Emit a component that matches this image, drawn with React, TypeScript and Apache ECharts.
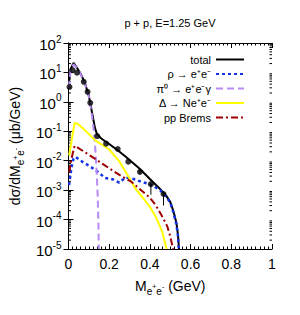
import React, { useEffect, useRef } from "react";
import * as echarts from "echarts";

const totalX = [0.002, 0.01, 0.025, 0.04, 0.06, 0.08, 0.1, 0.11, 0.12, 0.13, 0.14, 0.16, 0.18, 0.2, 0.24, 0.28, 0.3, 0.35, 0.4, 0.45, 0.48, 0.5, 0.515, 0.53, 0.538, 0.543];
const totalY = [5, 13, 21, 15, 9, 4.5, 1.6, 0.7, 0.3, 0.13, 0.08, 0.058, 0.046, 0.037, 0.023, 0.014, 0.0105, 0.0053, 0.0024, 0.0011, 6.5e-4, 4e-4, 2e-4, 8e-5, 3e-5, 1e-5];

const rhoX = [0.003, 0.015, 0.025, 0.035, 0.06, 0.09, 0.13, 0.18, 0.22, 0.25, 0.28, 0.32, 0.36, 0.4, 0.45, 0.48, 0.5, 0.515, 0.53, 0.538, 0.542];
const rhoY = [0.0015, 0.006, 0.012, 0.0135, 0.01, 0.0075, 0.005, 0.0026, 0.0023, 0.0018, 0.0027, 0.0024, 0.0019, 0.0016, 0.001, 6e-4, 3.8e-4, 1.8e-4, 7e-5, 2.8e-5, 1e-5];

const pi0X = [0.002, 0.01, 0.025, 0.04, 0.06, 0.08, 0.1, 0.11, 0.12, 0.13, 0.138, 0.143, 0.147, 0.149];
const pi0Y = [3, 11, 19, 14.5, 8.7, 4.3, 1.5, 0.6, 0.2, 0.04, 5e-3, 8e-4, 8e-5, 1e-5];

const deltaX = [0.003, 0.03, 0.045, 0.08, 0.13, 0.2, 0.25, 0.3, 0.33, 0.37, 0.4, 0.43, 0.46, 0.482];
const deltaY = [0.015, 0.19, 0.18, 0.11, 0.05, 0.024, 0.0095, 0.0025, 0.0011, 5e-4, 2.7e-4, 1.2e-4, 4e-5, 1e-5];

const bremsX = [0.003, 0.015, 0.03, 0.045, 0.1, 0.16, 0.2, 0.26, 0.31, 0.35, 0.4, 0.43, 0.455, 0.485, 0.5, 0.514];
const bremsY = [0.004, 0.012, 0.032, 0.028, 0.016, 0.0085, 0.0055, 0.003, 0.0019, 0.0011, 5.5e-4, 3e-4, 1.5e-4, 6e-5, 2.7e-5, 1e-5];

const dataX = [0.005, 0.02, 0.042, 0.075, 0.094, 0.107, 0.141, 0.185, 0.242, 0.294, 0.351, 0.405, 0.467];
const dataY = [3.2, 12, 9.8, 4.8, 2.2, 0.93, 0.069, 0.038, 0.025, 0.0093, 0.0042, 0.0016, 7.4e-4];
const dataLo = [3.2, 12, 9.8, 4.8, 2.2, 0.93, 0.069, 0.038, 0.025, 0.0093, 0.0034, 7e-4, 3e-4];
const dataHi = [3.2, 12, 9.8, 4.8, 2.2, 0.93, 0.069, 0.038, 0.025, 0.0093, 0.0052, 0.0016, 7.4e-4];

const legendNames = ["total", "ρ → e⁺e⁻", "π⁰ → e⁺e⁻γ", "Δ → Ne⁺e⁻", "pp Brems"];

const yMinor: number[] = [];
for (let e = -5; e < 2; e++) {
  for (let m = 2; m <= 9; m++) yMinor.push(m * Math.pow(10, e));
}

const FONT = "Liberation Sans, Arial, sans-serif";

const zip = (xs: number[], ys: number[]) => xs.map((x, i) => [x, ys[i]]);

export default function App() {
  const ref = useRef<HTMLDivElement>(null);
  useEffect(() => {
    document.body.style.margin = "0";
    if (!ref.current) return;
    const chart = echarts.init(ref.current, null, { renderer: "svg" });
    const lineBase = (name: string, xs: number[], ys: number[], color: string, type: any, width: number, z: number) => ({
      name,
      type: "line",
      data: zip(xs, ys),
      symbol: "none",
      smooth: false,
      z,
      lineStyle: { color, type, width },
      itemStyle: { color },
    });
    chart.setOption({
      animation: false,
      title: {
        text: "p + p, E=1.25 GeV",
        left: 170,
        textAlign: "center",
        top: 17,
        padding: 0,
        textStyle: { fontSize: 11, fontWeight: "normal", color: "#000", fontFamily: FONT },
      },
      legend: {
        data: legendNames,
        orient: "vertical",
        right: 55,
        top: 54,
        padding: 0,
        align: "right",
        itemWidth: 28,
        itemHeight: 12,
        itemGap: 3.5,
        itemStyle: { opacity: 0 },
        textStyle: { fontSize: 11, color: "#000", fontFamily: FONT },
      },
      grid: { left: 67, right: 28, top: 43, bottom: 66 },
      xAxis: [
        {
          type: "value",
          min: 0,
          max: 1,
          interval: 0.2,
          position: "bottom",
          axisLine: { lineStyle: { color: "#000", width: 1 } },
          axisTick: { inside: true, length: 5, lineStyle: { color: "#000" } },
          minorTick: { show: true, splitNumber: 10, length: 2.5, lineStyle: { color: "#000" } },
          splitLine: { show: false },
          axisLabel: {
            fontSize: 14,
            color: "#000",
            fontFamily: FONT,
            margin: 8,
            formatter: (v: number) => String(Math.round(v * 10) / 10),
          },
          name: "{n|M}{sb|e}{ss|+}{sb|e}{ss|-}{n| (GeV)}",
          nameLocation: "middle",
          nameGap: 27,
          nameTextStyle: {
            color: "#000",
            fontFamily: FONT,
            rich: {
              n: { fontSize: 14, lineHeight: 20, color: "#000", fontFamily: FONT, verticalAlign: "middle" },
              sb: { fontSize: 10, color: "#000", fontFamily: FONT, verticalAlign: "bottom" },
              ss: { fontSize: 7, color: "#000", fontFamily: FONT, verticalAlign: "middle" },
            },
          },
        },
        {
          type: "value",
          min: 0,
          max: 1,
          interval: 0.2,
          position: "top",
          axisLine: { lineStyle: { color: "#000", width: 1 } },
          axisTick: { inside: true, length: 5, lineStyle: { color: "#000" } },
          minorTick: { show: true, splitNumber: 10, length: 2.5, lineStyle: { color: "#000" } },
          splitLine: { show: false },
          axisLabel: { show: false },
        },
      ],
      yAxis: [
        {
          type: "log",
          logBase: 10,
          min: 1e-5,
          max: 100,
          splitNumber: 7,
          position: "left",
          axisLine: { show: true, lineStyle: { color: "#000", width: 1 } },
          axisTick: { inside: true, length: 5, lineStyle: { color: "#000" } },
          splitLine: { show: false },
          axisLabel: {
            margin: 7,
            color: "#000",
            fontFamily: FONT,
            formatter: (v: number) => `{b|10}{s|${Math.round(Math.log10(v))}}`,
            rich: {
              b: { fontSize: 15, lineHeight: 18, color: "#000", fontFamily: FONT, verticalAlign: "bottom" },
              s: { fontSize: 10, color: "#000", fontFamily: FONT, verticalAlign: "top" },
            },
          },
          name: "{n|dσ/dM}{sb|e}{ss|+}{sb|e}{ss|-}{n| (μb/GeV)}",
          nameLocation: "middle",
          nameGap: 42,
          nameTextStyle: {
            color: "#000",
            fontFamily: FONT,
            rich: {
              n: { fontSize: 14, lineHeight: 20, color: "#000", fontFamily: FONT, verticalAlign: "middle" },
              sb: { fontSize: 10, color: "#000", fontFamily: FONT, verticalAlign: "bottom" },
              ss: { fontSize: 7, color: "#000", fontFamily: FONT, verticalAlign: "middle" },
            },
          },
        },
        {
          type: "log",
          logBase: 10,
          min: 1e-5,
          max: 100,
          splitNumber: 7,
          position: "right",
          axisLine: { show: true, lineStyle: { color: "#000", width: 1 } },
          axisTick: { inside: true, length: 5, lineStyle: { color: "#000" } },
          splitLine: { show: false },
          axisLabel: { show: false },
        },
      ],
      series: [
        {
          type: "custom",
          name: "minorY",
          silent: true,
          z: 1,
          data: yMinor.map((v) => [0, v]),
          renderItem: (params: any, api: any) => {
            const v = api.value(1);
            const l = api.coord([0, v]);
            const r = api.coord([1, v]);
            const st = { stroke: "#000", lineWidth: 1 };
            return {
              type: "group",
              children: [
                { type: "line", shape: { x1: l[0], y1: l[1], x2: l[0] + 2.5, y2: l[1] }, style: st },
                { type: "line", shape: { x1: r[0], y1: r[1], x2: r[0] - 2.5, y2: r[1] }, style: st },
              ],
            };
          },
        },
        lineBase(legendNames[0], totalX, totalY, "#000000", "solid", 2, 3),
        lineBase(legendNames[1], rhoX, rhoY, "#1433e6", [3, 3], 2.5, 4),
        lineBase(legendNames[2], pi0X, pi0Y, "#b88af5", [7, 4], 2, 4),
        lineBase(legendNames[3], deltaX, deltaY, "#ffff00", "solid", 2, 4),
        lineBase(legendNames[4], bremsX, bremsY, "#a00000", [7, 3, 2, 3], 2, 4),
        {
          type: "custom",
          name: "errors",
          silent: true,
          z: 5,
          data: dataX.map((x, i) => [x, dataLo[i], dataHi[i]]),
          renderItem: (params: any, api: any) => {
            const lo = api.coord([api.value(0), api.value(1)]);
            const hi = api.coord([api.value(0), api.value(2)]);
            return {
              type: "line",
              shape: { x1: lo[0], y1: lo[1], x2: hi[0], y2: hi[1] },
              style: { stroke: "#000", lineWidth: 1 },
            };
          },
        },
        {
          type: "scatter",
          name: "data",
          z: 6,
          data: zip(dataX, dataY),
          symbol: "circle",
          symbolSize: 6,
          itemStyle: { color: "#000" },
        },
      ],
    });
    return () => chart.dispose();
  }, []);
  return <div ref={ref} style={{ width: 300, height: 315 }} />;
}
